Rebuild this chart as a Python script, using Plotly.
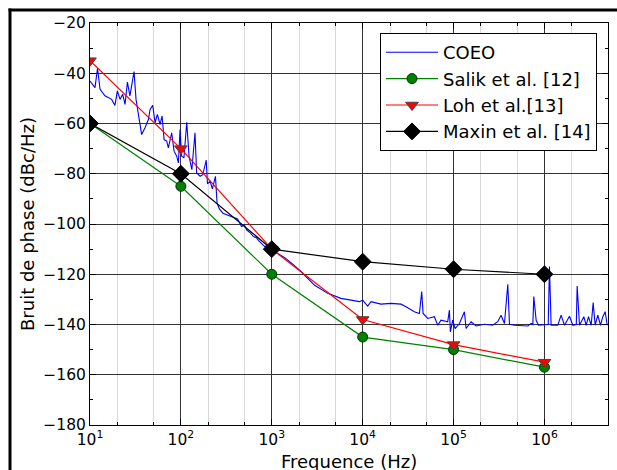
import plotly.graph_objects as go

# ---- data ----
ref_freq = [10, 100, 1000, 10000, 100000, 1000000]
salik = [-60, -85, -120, -145, -150, -157]
loh = [-35, -70, -110, -138, -148, -155]
maxin = [-60, -80, -110, -115, -118, -120]

coeo_freq = [
    10, 11.35, 12.1, 12.9, 14.6, 17.3, 18.8, 20.0, 21.4, 22.9, 24.3, 25.8, 27.5, 30.5, 32.1,
    34.0, 37.0, 40.3, 43.9, 45.8, 49.0, 52.0, 55.1, 59.0, 62.1, 65.3, 69.8, 72.8, 79.2, 84.1,
    90.0, 93.8, 97.9, 102, 108, 116, 123, 132, 143, 149, 163, 174, 190, 196, 210, 222, 240,
    250, 265, 290, 331, 380, 420, 464, 500, 531, 580, 628, 680, 713, 760, 838, 900, 1000,
    1200, 1400, 1700, 2094, 2938, 4120, 5770, 7440, 9190, 10000, 11350, 12350, 15920, 20500,
    26400, 30000, 37000, 42100, 44600, 46200, 52000, 61500, 67000, 72800, 86200, 90000, 92200,
    97900, 104000, 116000, 131600, 137300, 156000, 177000, 218500, 270000, 306000, 333000,
    363000, 395000, 412000, 468000, 656000, 713000, 745000, 763000, 810000, 859000, 1100000,
    1135000, 1184000, 1402000, 1525000, 1660000, 1884000, 2050000, 2240000, 2290000, 2430000,
    2710000, 2875000, 3050000, 3265000, 3434000, 3610000, 3865000, 4133000, 4385000, 4656000,
    4900000,
]
coeo_val = [
    -43.1, -45.7, -38.0, -46.4, -49.0, -50.4, -52.8, -47.0, -50.4, -48.4, -52.4, -43.5, -49.0, -39.3, -50.4,
    -55.7, -64.4, -61.7, -58.4, -54.4, -52.8, -59.7, -56.4, -60.4, -57.0, -66.4, -67.0, -69.7, -63.7, -71.0,
    -73.0, -75.7, -62.4, -73.0, -73.7, -59.5, -73.0, -78.4, -63.7, -79.7, -81.0, -80.4, -74.6, -84.0, -83.0, -86.0, -81.0,
    -91.7, -94.0, -95.7, -96.5, -97.5, -98.0, -101.0, -100.5, -102.4, -103.5, -105.0, -105.5, -106.5, -107.5, -109.0, -108.5, -110.5,
    -112.0, -113.5, -116.0, -118.9, -124.3, -127.6, -129.6, -130.3, -130.9, -130.3, -132.7, -130.9, -131.9, -131.6,
    -131.9, -132.9, -134.9, -135.6, -126.9, -135.6, -137.6, -136.9, -140.3, -138.3, -138.9, -134.3, -142.9,
    -138.3, -141.6, -139.6, -134.9, -141.6, -138.9, -140.6, -139.9, -140.3, -138.9, -136.3,
    -139.6, -124.0, -139.9, -140.3, -140.6, -139.6, -140.0, -128.9, -138.3, -140.3, -140.0,
    -116.9, -140.3, -140.3, -136.3, -140.3, -136.7, -140.3, -140.0, -124.7, -140.3,
    -136.9, -140.3, -136.9, -140.3, -131.3, -140.3, -136.3, -140.3, -136.9, -134.9,
    -140.3,
]

x_tickvals = [10, 100, 1000, 10000, 100000, 1000000]
x_ticktext = ["10<sup>1</sup>", "10<sup>2</sup>", "10<sup>3</sup>", "10<sup>4</sup>",
              "10<sup>5</sup>", "10<sup>6</sup>"]
y_tickvals = [-180, -160, -140, -120, -100, -80, -60, -40, -20]
y_ticktext = ["\u2212180", "\u2212160", "\u2212140", "\u2212120", "\u2212100",
              "\u221280", "\u221260", "\u221240", "\u221220"]

FONT = "DejaVu Sans"

fig = go.Figure()
fig.add_trace(go.Scatter(x=coeo_freq, y=coeo_val, mode="lines", name="COEO",
                         line=dict(color="#0000ff", width=1.1)))
fig.add_trace(go.Scatter(x=ref_freq, y=salik, mode="lines+markers", name="Salik et al. [12]",
                         line=dict(color="#008000", width=1.2),
                         marker=dict(symbol="circle", size=10, color="#008000",
                                     line=dict(color="#003300", width=1))))
fig.add_trace(go.Scatter(x=ref_freq, y=loh, mode="lines+markers", name="Loh et al.[13]",
                         line=dict(color="#ff0000", width=1.2),
                         marker=dict(symbol="triangle-down", size=11, color="#ff0000",
                                     line=dict(color="#444444", width=1))))
fig.add_trace(go.Scatter(x=ref_freq, y=maxin, mode="lines+markers", name="Maxin et al. [14]",
                         line=dict(color="#000000", width=1.2),
                         marker=dict(symbol="diamond", size=13, color="#000000",
                                     line=dict(color="#000000", width=1))))

# plot area: left 90, right 608, top 22.6, bottom 425
L, R, T, B = 90, 9, 23, 45
W, H = 617, 470
pw = W - L - R
ph = H - T - B


def px_x(px):
    return (px - L) / pw


def px_y(py):
    return (H - B - py) / ph


frame_line = dict(color="black", width=3)

fig.update_layout(
    width=W, height=H,
    margin=dict(l=L, r=R, t=T, b=B, autoexpand=False),
    paper_bgcolor="white", plot_bgcolor="white",
    font=dict(family=FONT, size=15.5, color="black"),
    showlegend=True,
    legend=dict(x=px_x(380), y=px_y(33), xanchor="left", yanchor="top",
                bordercolor="black", borderwidth=1, bgcolor="white",
                font=dict(family=FONT, size=18, color="black"),
                itemwidth=52, tracegroupgap=0),
    shapes=[
        dict(type="line", xref="paper", yref="paper",
             x0=px_x(8.5), x1=px_x(640), y0=px_y(10), y1=px_y(10), line=frame_line, layer="above"),
        dict(type="line", xref="paper", yref="paper",
             x0=px_x(10), x1=px_x(10), y0=px_y(8.5), y1=px_y(470), line=frame_line, layer="above"),
    ],
    annotations=[
        dict(text="Frequence (Hz)", xref="paper", yref="paper", x=px_x(349), y=px_y(461),
             xanchor="center", yanchor="middle", showarrow=False,
             font=dict(family=FONT, size=18, color="black")),
        dict(text="Bruit de phase (dBc/Hz)", xref="paper", yref="paper", x=px_x(27), y=px_y(224),
             xanchor="center", yanchor="middle", showarrow=False, textangle=-90,
             font=dict(family=FONT, size=18, color="black")),
    ],
)

fig.update_xaxes(
    type="log", range=[1, 6.699], automargin=False,
    tickvals=x_tickvals, ticktext=x_ticktext,
    showgrid=True, gridcolor="#333333", gridwidth=1,
    showline=True, linecolor="black", linewidth=1, mirror="ticks",
    ticks="inside", ticklen=6, tickcolor="black",
    minor=dict(ticks="inside", ticklen=3, tickcolor="black", showgrid=True,
               gridcolor="#d9d9d9", gridwidth=1),
    tickfont=dict(family=FONT, size=15.5),
    zeroline=False,
)
fig.update_yaxes(
    range=[-180, -20], automargin=False,
    tickvals=y_tickvals, ticktext=y_ticktext,
    showgrid=True, gridcolor="#333333", gridwidth=1,
    showline=True, linecolor="black", linewidth=1, mirror="ticks",
    ticks="inside", ticklen=6, tickcolor="black",
    minor=dict(dtick=10, ticks="inside", ticklen=3, tickcolor="black", showgrid=False),
    tickfont=dict(family=FONT, size=15.5),
    zeroline=False,
)

fig.write_html(
    "out.html", config={"displayModeBar": False},
    post_script=(
        "var st=document.createElement('style');"
        "st.textContent='html,body{margin:0;padding:0;overflow:hidden;scrollbar-width:none;}"
        "::-webkit-scrollbar{display:none;width:0;height:0;}';"
        "document.head.appendChild(st);"
        "document.documentElement.style.overflow='hidden';"
        "document.body.style.margin='0';document.body.style.overflow='hidden';"
    ),
)
